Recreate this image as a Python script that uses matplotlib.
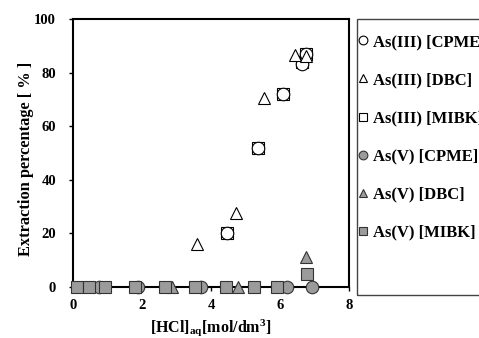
import matplotlib
matplotlib.use('Agg')
import matplotlib.pyplot as plt
from matplotlib.patches import Rectangle

plt.rcParams['font.family'] = 'Liberation Serif'
plt.rcParams['font.weight'] = 'bold'
plt.rcParams['mathtext.fontset'] = 'custom'
plt.rcParams['mathtext.rm'] = 'Liberation Serif:bold'
plt.rcParams['mathtext.it'] = 'Liberation Serif:bold'
plt.rcParams['mathtext.bf'] = 'Liberation Serif:bold'

# As(III) series (open markers)
x_as3_cpme = [4.45, 5.36, 6.08, 6.62, 6.75]
y_as3_cpme = [20, 52, 72, 83, 87]
x_as3_dbc = [3.60, 4.72, 5.52, 6.43, 6.75]
y_as3_dbc = [16, 27.5, 70.5, 86.5, 86]
x_as3_mibk = [4.45, 5.36, 6.08, 6.62, 6.75]
y_as3_mibk = [20, 52, 72, 84, 87]

# As(V) series (grey markers)
x_as5_cpme = [0.75, 1.88, 3.72, 6.19, 6.92]
y_as5_cpme = [0, 0, 0, 0, 0]
x_as5_dbc = [2.86, 4.77, 6.74]
y_as5_dbc = [0, 0, 11]
x_as5_mibk = [0.11, 0.47, 0.93, 1.80, 2.67, 3.54, 4.43, 5.25, 5.90, 6.79]
y_as5_mibk = [0, 0, 0, 0, 0, 0, 0, 0, 0, 4.8]

labels = ['As(III) [CPME]', 'As(III) [DBC]', 'As(III) [MIBK]',
          'As(V) [CPME]', 'As(V) [DBC]', 'As(V) [MIBK]']

grey = '#9b9b9b'
edge = '#333333'

fig = plt.figure(figsize=(4.79, 3.38), dpi=100)
ax = fig.add_axes([0.152, 0.151, 0.577, 0.793])

ms = 9
kw_open = dict(linestyle='none', markersize=ms, markerfacecolor='white',
               markeredgecolor='black', markeredgewidth=0.8, clip_on=False)
kw_fill = dict(linestyle='none', markersize=ms, markerfacecolor=grey,
               markeredgecolor=edge, markeredgewidth=0.8, clip_on=False)

# squares first so the circles sit inside them
h3, = ax.plot(x_as3_mibk, y_as3_mibk, marker='s', **kw_open)
h1, = ax.plot(x_as3_cpme, y_as3_cpme, marker='o', **kw_open)
h2, = ax.plot(x_as3_dbc, y_as3_dbc, marker='^', **kw_open)
h4, = ax.plot(x_as5_cpme, y_as5_cpme, marker='o', **kw_fill)
h5, = ax.plot(x_as5_dbc, y_as5_dbc, marker='^', **kw_fill)
h6, = ax.plot(x_as5_mibk, y_as5_mibk, marker='s', **kw_fill)

ax.set_xlim(0, 8)
ax.set_ylim(0, 100)
ax.set_xticks([0, 2, 4, 6, 8])
ax.set_yticks([0, 20, 40, 60, 80, 100])
ax.tick_params(direction='out', length=3, width=1, labelsize=10.5)
ax.tick_params(axis='y', pad=9)
ax.tick_params(axis='x', pad=6)
for s in ax.spines.values():
    s.set_linewidth(1.5)
    s.set_zorder(1)

ax.set_xlabel('[HCl]$_{aq}$[mol/dm$^{3}$]', fontsize=11.5, fontweight='bold', labelpad=3)
ax.set_ylabel('Extraction percentage [ % ]', fontsize=11.8, fontweight='bold')
ax.yaxis.set_label_coords(-0.141, 0.478)

# legend box drawn separately
fig.patches.append(Rectangle((357 / 479, 1 - 295 / 338), 0.3, (295 - 19) / 338,
                             transform=fig.transFigure, fill=False,
                             edgecolor='#444444', linewidth=1))
fig.legend([h1, h2, h3, h4, h5, h6], labels, loc='upper left',
           bbox_to_anchor=(358 / 479, 1 - 34 / 338), frameon=False,
           fontsize=12, markerscale=0.7, handlelength=0.6, handletextpad=0.3,
           labelspacing=1.33, borderaxespad=0, borderpad=0)

fig.savefig('out.png', dpi=100)
